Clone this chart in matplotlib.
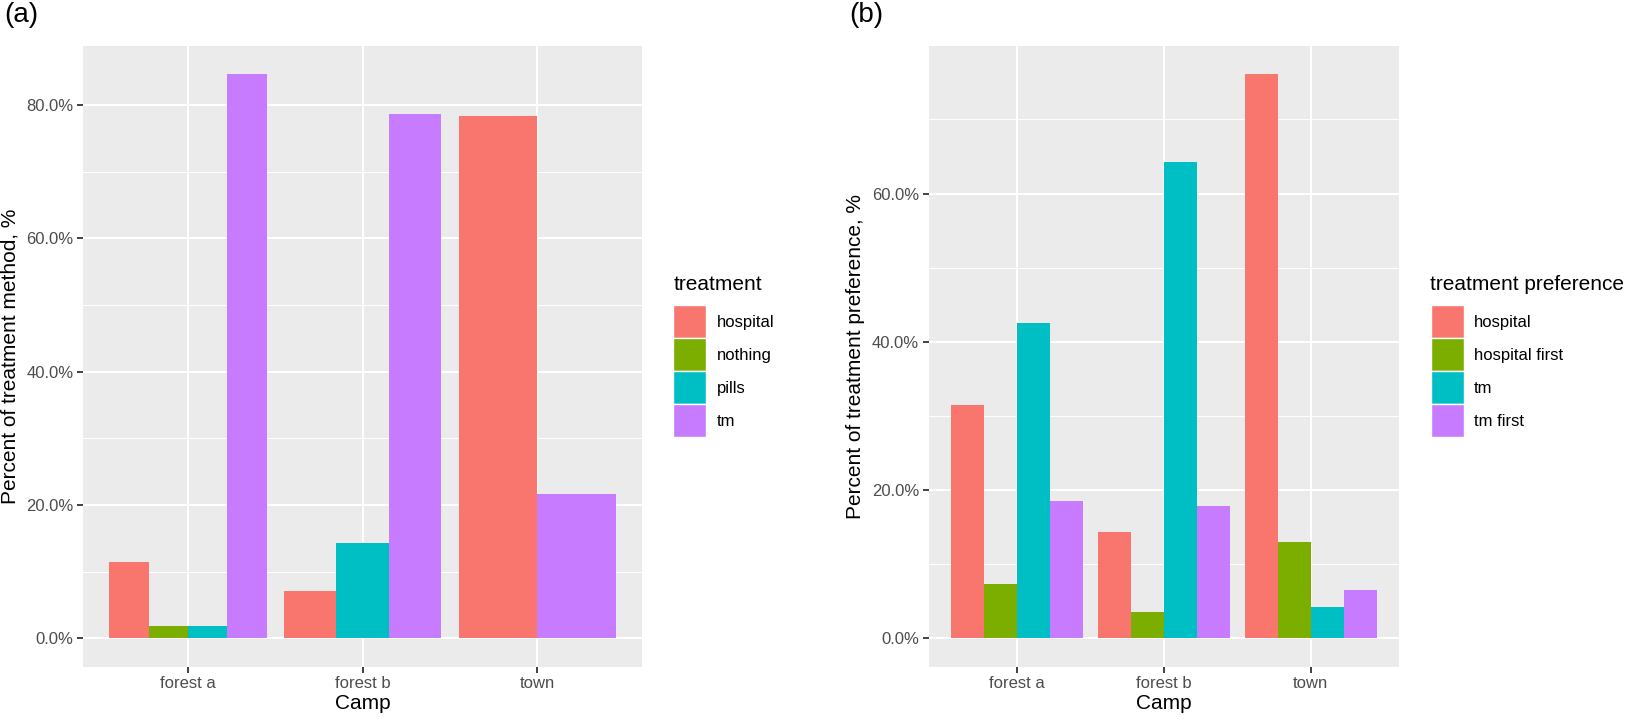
import matplotlib
matplotlib.use("Agg")
import matplotlib.pyplot as plt
from matplotlib.patches import Patch
from matplotlib.ticker import PercentFormatter, MultipleLocator

plt.rcParams["font.family"] = ["Liberation Sans", "DejaVu Sans"]

# ------------------------------------------------------------------------------------------
# data, in percent of respondents per camp
camps = ["forest a", "forest b", "town"]

# (a) treatment method, None = category not present in that camp
treatments = ["hospital", "nothing", "pills", "tm"]
method_hospital = [11.5, 7.1, 78.3]
method_nothing = [1.9, None, None]
method_pills = [1.9, 14.3, None]
method_tm = [84.6, 78.6, 21.7]

# (b) treatment preference
preferences = ["hospital", "hospital first", "tm", "tm first"]
pref_hospital = [31.5, 14.3, 76.1]
pref_hospital_first = [7.4, 3.6, 13.0]
pref_tm = [42.6, 64.3, 4.3]
pref_tm_first = [18.5, 17.9, 6.5]

# ggplot default hue palette for 4 levels
list_colors = ["#F8766D", "#7CAE00", "#00BFC4", "#C77CFF"]

# ------------------------------------------------------------------------------------------
W, H = 1625, 719
fig = plt.figure(figsize=(W / 100, H / 100), dpi=100)


def dodge_bars(ax, list_series):
    # ggplot position_dodge: total width 0.9 shared by the bars present in each group
    for ind_camp in range(len(camps)):
        present = [ind for ind, s in enumerate(list_series) if s[ind_camp] is not None]
        width = 0.9 / len(present)
        for k, ind in enumerate(present):
            x = ind_camp - 0.45 + (k + 0.5) * width
            ax.bar(x, list_series[ind][ind_camp], width, color=list_colors[ind], linewidth=0, zorder=2)


def style_panel(ax, list_series, ylabel, legend_title, legend_labels, width_px):
    values = [v for s in list_series for v in s if v is not None]
    ymax = max(values)
    ax.set_ylim(-0.05 * ymax, 1.05 * ymax)
    ax.set_xlim(-0.6, len(camps) - 0.4)
    ax.set_facecolor("#EBEBEB")
    for sp in ax.spines.values():
        sp.set_visible(False)
    ax.set_xticks(range(len(camps)))
    ax.set_xticklabels(camps)
    ax.yaxis.set_major_locator(MultipleLocator(20))
    ax.yaxis.set_minor_locator(MultipleLocator(10))
    ax.yaxis.set_major_formatter(PercentFormatter(decimals=1))
    ax.set_axisbelow(True)
    ax.grid(which="major", color="white", linewidth=1.45, zorder=0)
    ax.grid(which="minor", axis="y", color="white", linewidth=0.7, zorder=0)
    ax.tick_params(which="major", length=4, width=1.3, color="#333333",
                   labelcolor="#4D4D4D", labelsize=12, pad=3)
    ax.tick_params(which="minor", length=0)
    ax.set_xlabel("Camp", fontsize=15, labelpad=2)
    ax.set_ylabel(ylabel, fontsize=15, labelpad=5)

    # key boxes of ~33 px, stacked without gaps
    handles = [Patch(facecolor=c, edgecolor="white", linewidth=1.0) for c in list_colors]
    leg = ax.legend(handles, legend_labels, title=legend_title, loc="center left",
                    bbox_to_anchor=(1 + 31.5 / width_px, 0.5), frameon=False,
                    fontsize=12, title_fontsize=15, alignment="left",
                    handlelength=1.98, handleheight=2.67, labelspacing=0.0,
                    handletextpad=0.6, borderpad=0, borderaxespad=0)
    leg._legend_box.sep = 8


# panel (a)
ax_a = fig.add_axes([83.3 / W, 1 - 666.7 / H, (642 - 83.3) / W, (666.7 - 46) / H])
series_a = [method_hospital, method_nothing, method_pills, method_tm]
dodge_bars(ax_a, series_a)
style_panel(ax_a, series_a, "Percent of treatment method, %", "treatment", treatments, 642 - 83.3)

# panel (b)
ax_b = fig.add_axes([928.7 / W, 1 - 666.7 / H, (1399 - 928.7) / W, (666.7 - 46) / H])
series_b = [pref_hospital, pref_hospital_first, pref_tm, pref_tm_first]
dodge_bars(ax_b, series_b)
style_panel(ax_b, series_b, "Percent of treatment preference, %", "treatment preference", preferences, 1399 - 928.7)

fig.text(4 / W, 1 - 2 / H, "(a)", fontsize=20, va="top", ha="left")
fig.text(849 / W, 1 - 2 / H, "(b)", fontsize=20, va="top", ha="left")

fig.savefig("out.png", dpi=100)
